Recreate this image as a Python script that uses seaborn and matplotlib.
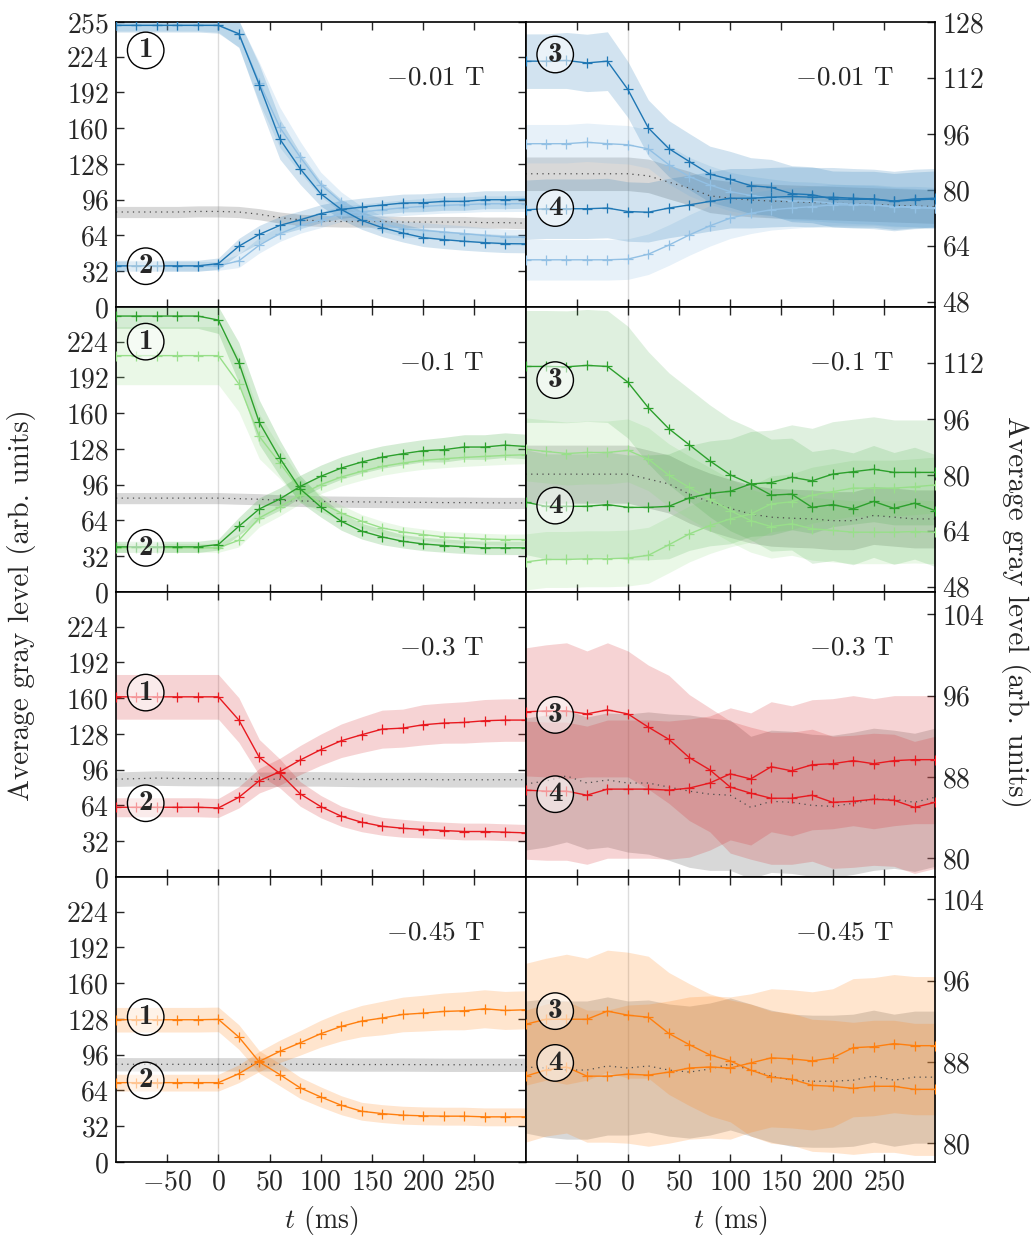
import matplotlib
matplotlib.use("Agg")
import matplotlib.pyplot as plt
import seaborn as sns
import pandas as pd
from matplotlib.ticker import FuncFormatter

# ---------------- data ----------------
t_ms = [-100, -80, -60, -40, -20, 0, 20, 40, 60, 80, 100, 120, 140, 160, 180, 200, 220, 240, 260, 280, 300]
field_labels = ["$-0.01$ T", "$-0.1$ T", "$-0.3$ T", "$-0.45$ T"]

# Row 1 (-0.01 T), left: regions 1 & 2
r1_left_1 = [252, 252, 252, 252, 252, 252, 244.5, 198.7, 150.3, 123.6, 101.3, 87.3, 77.5, 71, 66.2, 62.1, 60.3, 58.8, 57.6, 56.7, 56.5]
r1_left_1b = [252, 252, 252, 252, 252, 252, 244, 200.8, 160.7, 134, 109.6, 93.9, 82, 74.6, 70, 68.6, 67, 65.6, 64, 62.7, 62.5]
r1_left_2 = [36.8, 36.8, 36.8, 36.8, 36.8, 38.9, 54.4, 65, 73, 78, 83.5, 87.3, 89.4, 91.2, 93, 93.3, 94.5, 94.5, 96, 96, 96.3]
r1_left_2b = [36.8, 36.8, 36.8, 36.8, 36.8, 36.8, 41.3, 55.3, 65.6, 73, 78, 83.5, 85, 87, 88.8, 90, 91, 91.5, 92.4, 92.4, 92.5]
r1_left_gray = [85, 85, 85, 85, 85.5, 85.5, 85, 83, 80, 78, 77, 76.5, 76.5, 76.5, 76, 76, 76, 76, 75.5, 75.5, 75]
r1_left_1_sd = [6, 6, 6, 6, 6, 7, 12, 18, 18, 14, 11, 9, 8, 8, 8, 8, 8, 8, 8, 8, 8]
r1_left_1b_sd = [5, 5, 5, 5, 5, 6, 12, 18, 18, 14, 11, 9, 8, 7, 7, 7, 7, 7, 7, 7, 7]
r1_left_2_sd = [5, 5, 5, 5, 5, 5, 7, 8, 8, 8, 8, 8, 8, 8, 8, 8, 8, 8, 8, 8, 8]
r1_left_2b_sd = [4, 4, 4, 4, 4, 4, 6, 7, 7, 7, 7, 7, 7, 7, 7, 7, 7, 7, 7, 7, 7]
r1_left_gray_sd = [5] * 21

# Row 1, right: regions 3 & 4
r1_right_3 = [116.8, 116.8, 117, 116.3, 116.8, 108.7, 97.7, 91.8, 88.1, 84.5, 83, 81.2, 80.7, 78.9, 78.6, 77.4, 77.3, 77.3, 76.7, 77.1, 77.4]
r1_right_3b = [93.2, 93.2, 93.2, 93.6, 93.2, 92.9, 91.7, 87.2, 83.8, 81.4, 79.5, 78.4, 77.6, 76.9, 76.7, 76.2, 75.9, 75.7, 75.2, 74.9, 74.7]
r1_right_4 = [74.3, 74.6, 74.6, 74.6, 74.8, 73.8, 73.6, 74.8, 75.7, 76.7, 77.6, 77.6, 77.9, 78.1, 77.9, 77.9, 77.6, 77.4, 76.8, 77.4, 77.6]
r1_right_4b = [60, 60, 60, 60, 60, 60.2, 61.6, 64.2, 67.1, 69.7, 71.9, 73.3, 74.3, 74.8, 75.2, 75.7, 75.7, 75.7, 75.2, 75.2, 74.9]
r1_right_gray = [84.6, 84.6, 84.6, 84.6, 84.6, 84.6, 84, 82.2, 80.5, 78.3, 77.6, 77.1, 76.8, 76.6, 76.4, 76.2, 76, 75.8, 75.6, 75.4, 75.2]
r1_right_3_sd = [7.8, 7.8, 8, 8.2, 8.4, 8, 8, 8, 8, 8, 8, 8, 8, 8, 8, 8, 8, 8, 8, 8, 8]
r1_right_3b_sd = [5.5] * 21
r1_right_4_sd = [8.5] * 21
r1_right_4b_sd = [5.8] * 21
r1_right_gray_sd = [4.8] * 21

# Row 2 (-0.1 T), left
r2_left_1 = [246.9, 246.9, 246.9, 246.9, 246.9, 243.3, 205.3, 151.7, 119.8, 92.2, 76.1, 63.3, 54.4, 49.3, 45.4, 43, 41.6, 40.4, 39.5, 39.5, 39.5]
r2_left_1b = [211.5, 211.5, 211.5, 211.5, 211.5, 211.5, 186.2, 139.2, 115.4, 91, 79.7, 70.7, 63.3, 57.3, 53.8, 51.4, 49.3, 48.4, 47.5, 46.9, 46.9]
r2_left_2 = [40.4, 40.4, 40.4, 40.4, 40.4, 42.5, 58.8, 74.3, 83.2, 94.5, 103.5, 110.9, 116.3, 120.7, 123.7, 126.4, 127.3, 129.7, 129.7, 131.4, 130.2]
r2_left_2b = [39.5, 39.5, 39.5, 39.5, 39.5, 39.5, 46.3, 66.3, 76.1, 87.1, 96, 102.9, 108, 112.4, 115.4, 117.8, 119.2, 120.4, 121.3, 122.2, 122.8]
r2_left_gray = [84, 84, 84, 84, 84, 84, 83.5, 83, 82, 81.5, 81, 80.8, 80.6, 80.5, 80.3, 80.2, 80, 80, 79.8, 79.7, 79.7]
r2_left_1_sd = [11, 11, 11, 11, 11, 12, 18, 20, 16, 12, 9, 8, 7, 7, 6, 6, 6, 6, 6, 6, 6]
r2_left_1b_sd = [26, 26, 26, 26, 26, 26, 25, 20, 14, 10, 8, 7, 6, 6, 5, 5, 5, 5, 5, 5, 5]
r2_left_2_sd = [5, 5, 5, 5, 5, 5, 8, 10, 10, 10, 10, 10, 10, 10, 10, 10, 11, 11, 11, 11, 11]
r2_left_2b_sd = [4, 4, 4, 4, 4, 4, 6, 8, 8, 8, 8, 8, 8, 8, 8, 8, 8, 8, 8, 8, 8]
r2_left_gray_sd = [5] * 21

# Row 2, right
r2_right_3 = [111, 111, 110.9, 111.3, 111, 106.5, 99.2, 93.2, 88.6, 84, 80, 77.4, 74.2, 74.5, 70.7, 71.5, 70.3, 72.4, 70.4, 71.9, 69.8]
r2_right_3b = [87.3, 86.7, 86.1, 86.4, 86.4, 87, 84.5, 79.9, 76.4, 73.1, 69.8, 66.9, 65.2, 66, 64.6, 64.1, 63.6, 63.6, 63.6, 63.8, 63.6]
r2_right_4 = [72.2, 71, 71, 71, 71.5, 70.7, 70.7, 71, 73.4, 74.7, 75.3, 77.4, 77.8, 79.3, 78.3, 80.2, 80.9, 81.6, 80.7, 80.7, 80.7]
r2_right_4b = [55.1, 55.8, 55.8, 56, 56, 56.2, 57, 60, 63.1, 65.5, 67.4, 68.8, 71.7, 72.3, 74.2, 75.2, 76.2, 76.2, 76.2, 76.6, 77.1]
r2_right_gray = [80.2, 80.2, 80.2, 80.2, 80.2, 80.2, 78.8, 77.4, 74.5, 72.2, 70.4, 68.8, 67.9, 67.6, 67.4, 66.9, 66.9, 68.4, 67.9, 67.4, 67.4]
r2_right_3_sd = [16] * 21
r2_right_3b_sd = [9] * 21
r2_right_4_sd = [15] * 21
r2_right_4b_sd = [8] * 21
r2_right_gray_sd = [8.3] * 21

# Row 3 (-0.3 T), left
r3_left_1 = [161.2, 161.2, 161.2, 161.2, 161.2, 161.2, 140.4, 107, 92.7, 74.3, 63, 54.4, 49, 45.4, 43.6, 42.5, 41.6, 40.7, 40.7, 40.1, 39.5]
r3_left_2 = [62.4, 62.4, 62.4, 62.4, 62.4, 61.8, 71.3, 86.2, 94.2, 104.7, 113.9, 121.9, 127.3, 132.3, 133.2, 136.2, 137.7, 138.3, 139.8, 140.4, 140.4]
r3_left_gray = [87.5, 88, 88.5, 88.2, 88, 88, 87.8, 87.5, 87.5, 87.8, 87.8, 87.5, 87.2, 87.2, 87.2, 87.2, 87, 87, 87, 87, 87]
r3_left_1_sd = [20, 20, 20, 20, 20, 20, 20, 16, 13, 11, 10, 9, 8.5, 8, 8, 7.5, 7.5, 7.5, 7.5, 7.5, 7.5]
r3_left_2_sd = [8.5, 8.5, 8.5, 8.5, 8.5, 8.5, 9.5, 11, 12, 13, 14, 15, 16, 17, 17, 18, 18, 18.5, 19, 19, 19]
r3_left_gray_sd = [6.5] * 21

# Row 3, right
r3_right_3 = [94.4, 94.5, 94.5, 94.2, 94.6, 94.2, 92.9, 91.7, 89.9, 88.7, 87, 86.4, 85.9, 85.9, 86.2, 85.5, 85.6, 85.8, 85.7, 85, 85.5]
r3_right_4 = [86.7, 86.6, 86.6, 86.2, 86.8, 86.8, 86.8, 86.7, 86.9, 87.4, 88.3, 87.8, 89, 88.6, 89.2, 89.3, 89.6, 89.3, 89.6, 89.7, 89.7]
r3_right_gray = [87.3, 87.6, 88.1, 87.4, 87.7, 87.4, 87.4, 87, 86.6, 86.3, 86.2, 85, 85.6, 85.5, 85.2, 85.1, 85.4, 85.8, 85.8, 85.5, 86]
r3_right_3_sd = [6.3, 6.5, 6.7, 6.2, 6.6, 6.2, 6.1, 6.3, 6.2, 6.1, 6.5, 6.5, 6.5, 6.5, 6.5, 6.5, 6.5, 6.5, 6.5, 6.5, 6.5]
r3_right_4_sd = [6.8, 6.8, 6.8, 6.8, 6.8, 6.8, 6.8, 6.8, 6.8, 6.6, 6.5, 6.5, 6.4, 6.4, 6.4, 6.4, 6.4, 6.4, 6.4, 6.3, 6.3]
r3_right_gray_sd = [6.5, 6.5, 6.5, 6.5, 6.6, 6.8, 7, 7.2, 7.5, 7.5, 7.4, 7, 7, 7, 7, 7, 7, 7, 6.8, 6.8, 6.8]

# Row 4 (-0.45 T), left
r4_left_1 = [127.3, 127.3, 127.3, 127.3, 127.3, 127.6, 111.8, 89.5, 78.2, 66.3, 58.2, 50.8, 45.4, 43.3, 41.9, 41.3, 41, 41, 40.4, 40.4, 40.4]
r4_left_2 = [71, 71, 71, 71, 71, 71, 79, 90, 99, 106.7, 114.8, 121.3, 126.1, 128.8, 132, 133.2, 134.7, 135.3, 137.1, 135.6, 136.2]
r4_left_gray = [87.5, 87.4, 87.4, 87.4, 87.4, 87.4, 87.4, 87.4, 87.4, 87.5, 87.4, 87.3, 87.2, 87.2, 87.2, 87.1, 87, 87, 87, 87, 87]
r4_left_1_sd = [11, 11, 11, 11, 11, 11, 11, 10, 10, 9.5, 9, 8.5, 8, 8, 8, 8, 8, 8, 8, 8, 8]
r4_left_2_sd = [7.5, 7.5, 7.5, 7.5, 7.5, 7.5, 8, 9, 10, 11, 12, 13, 14, 15, 15.5, 16, 16.5, 17, 17, 17, 17]
r4_left_gray_sd = [6] * 21

# Row 4, right
r4_right_3 = [91.7, 92.2, 92.2, 92.2, 93, 92.6, 92.4, 90.8, 89.7, 88.7, 88.1, 87.2, 86.5, 86.3, 85.7, 85.6, 85.4, 85.6, 85.6, 85.3, 85.3]
r4_right_4 = [86.6, 87.2, 87.5, 86.6, 86.6, 86.8, 86.7, 87, 87.4, 87.5, 87.4, 87.9, 88.4, 88.3, 88.1, 88.4, 89.4, 89.5, 89.8, 89.6, 89.6]
r4_right_gray = [87.5, 87.4, 87.2, 87.2, 87.6, 87.4, 87.6, 87.2, 87, 87.3, 87.8, 87.2, 86.6, 86.2, 86.1, 86.1, 86.2, 86.6, 86.2, 86.5, 86.5]
r4_right_3_sd = [6, 6, 6.4, 6, 6, 6.2, 6, 6, 6, 6, 6, 6.5, 6.5, 6.5, 6.5, 6.5, 6.5, 6.5, 6.5, 6.5, 6.5]
r4_right_4_sd = [6.5, 6.5, 6.5, 6.5, 6.5, 6.8, 7, 7, 7, 7, 7, 6.8, 6.8, 6.8, 6.8, 6.8, 6.8, 6.8, 6.8, 6.8, 6.8]
r4_right_gray_sd = [6.5, 6.8, 6.8, 6.8, 6.8, 6.6, 6.5, 6.5, 6.5, 6.5, 6.5, 6.5, 6.5, 6.5, 6.5, 6.5, 6.5, 6.5, 6.5, 6.5, 6.5]

left_yticks = [0, 32, 64, 96, 128, 160, 192, 224]
right_yticks_low = [48, 64, 80, 96, 112, 128]
right_yticks_high = [80, 88, 96, 104]
xticks = [-50, 0, 50, 100, 150, 200, 250]

# ---------------- style ----------------
sns.set_style("ticks")
plt.rcParams["font.family"] = ["cmr10", "DejaVu Serif"]
plt.rcParams["mathtext.fontset"] = "cm"
plt.rcParams["axes.formatter.use_mathtext"] = True
plt.rcParams["axes.unicode_minus"] = True

BLUE, BLUE_L = "#1f77b4", "#92c0e4"
GREEN, GREEN_L = "#2ca02c", "#98df8a"
RED, RED_BAND = "#e8191f", "#d62728"
ORANGE = "#ff7f0e"

fig = plt.figure(figsize=(10.34, 12.39), dpi=100)
gs = fig.add_gridspec(4, 2, left=116 / 1034, right=935 / 1034,
                      top=1 - 22 / 1239, bottom=1 - 1162 / 1239,
                      hspace=0, wspace=0)

def S(vals, sd, color, band=None, alpha=0.2):
    return dict(vals=vals, sd=sd, color=color, band=band or color, alpha=alpha)

panels = [
    # row 1
    dict(series=[S(r1_left_1b, r1_left_1b_sd, BLUE_L, alpha=0.25), S(r1_left_2b, r1_left_2b_sd, BLUE_L, alpha=0.25),
                 S(r1_left_1, r1_left_1_sd, BLUE), S(r1_left_2, r1_left_2_sd, BLUE)],
         gray=(r1_left_gray, r1_left_gray_sd), circles=[("1", 229.6), ("2", 36.5)]),
    dict(series=[S(r1_right_3b, r1_right_3b_sd, BLUE_L, alpha=0.22), S(r1_right_4b, r1_right_4b_sd, BLUE_L, alpha=0.22),
                 S(r1_right_3, r1_right_3_sd, BLUE), S(r1_right_4, r1_right_4_sd, BLUE)],
         gray=(r1_right_gray, r1_right_gray_sd), circles=[("3", 118.7), ("4", 74.8)]),
    # row 2
    dict(series=[S(r2_left_1b, r2_left_1b_sd, GREEN_L, alpha=0.2), S(r2_left_2b, r2_left_2b_sd, GREEN_L, alpha=0.2),
                 S(r2_left_1, r2_left_1_sd, GREEN), S(r2_left_2, r2_left_2_sd, GREEN)],
         gray=(r2_left_gray, r2_left_gray_sd), circles=[("1", 224), ("2", 39.5)]),
    dict(series=[S(r2_right_3b, r2_right_3b_sd, GREEN_L, alpha=0.2), S(r2_right_4b, r2_right_4b_sd, GREEN_L, alpha=0.2),
                 S(r2_right_3, r2_right_3_sd, GREEN, alpha=0.15), S(r2_right_4, r2_right_4_sd, GREEN, alpha=0.15)],
         gray=(r2_right_gray, r2_right_gray_sd), circles=[("3", 107.1), ("4", 71.2)]),
    # row 3
    dict(series=[S(r3_left_1, r3_left_1_sd, RED, RED_BAND), S(r3_left_2, r3_left_2_sd, RED, RED_BAND)],
         gray=(r3_left_gray, r3_left_gray_sd), circles=[("1", 165), ("2", 66)]),
    dict(series=[S(r3_right_3, r3_right_3_sd, RED, RED_BAND), S(r3_right_4, r3_right_4_sd, RED, RED_BAND)],
         gray=(r3_right_gray, r3_right_gray_sd), circles=[("3", 94.1), ("4", 86.3)]),
    # row 4
    dict(series=[S(r4_left_1, r4_left_1_sd, ORANGE), S(r4_left_2, r4_left_2_sd, ORANGE)],
         gray=(r4_left_gray, r4_left_gray_sd), circles=[("1", 129.7), ("2", 73)]),
    dict(series=[S(r4_right_3, r4_right_3_sd, ORANGE), S(r4_right_4, r4_right_4_sd, ORANGE)],
         gray=(r4_right_gray, r4_right_gray_sd), circles=[("3", 93), ("4", 87.9)]),
]

fmt = FuncFormatter(lambda v, p: "$%d$" % int(round(v)))

for i, p in enumerate(panels):
    row, col = divmod(i, 2)
    ax = fig.add_subplot(gs[row, col])
    ax.axvline(0, color="#dcdcdc", lw=1.0, zorder=0)

    gv, gsd = p["gray"]
    gdf = pd.DataFrame({"t": t_ms, "v": gv, "sd": gsd})
    ax.fill_between(gdf["t"], gdf["v"] - gdf["sd"], gdf["v"] + gdf["sd"],
                    color="0.5", alpha=0.3, lw=0, zorder=1)
    sns.lineplot(data=gdf, x="t", y="v", ax=ax, color="0.3", lw=0.9,
                 linestyle=(0, (1, 3.5)), errorbar=None, zorder=2)

    for s in p["series"]:
        df = pd.DataFrame({"t": t_ms, "v": s["vals"], "sd": s["sd"]})
        ax.fill_between(df["t"], df["v"] - df["sd"], df["v"] + df["sd"],
                        color=s["band"], alpha=s["alpha"], lw=0, zorder=1)
    for s in p["series"]:
        df = pd.DataFrame({"t": t_ms, "v": s["vals"]})
        sns.lineplot(data=df, x="t", y="v", ax=ax, color=s["color"], lw=1.0,
                     marker="+", markersize=7, markeredgewidth=0.9,
                     markeredgecolor=s["color"], errorbar=None, zorder=3)

    for lab, yv in p["circles"]:
        ax.text(-71, yv, lab, ha="center", va="center", fontsize=21,
                family="cmb10", zorder=5,
                bbox=dict(boxstyle="circle,pad=0.18", fc=(1, 1, 1, 0.55), ec="black", lw=1.0))

    ax.text(0.9, 0.805, field_labels[row], transform=ax.transAxes, ha="right",
            va="center", fontsize=19.5)

    ax.set_xlim(-100, 300)
    ax.set_xticks(xticks)
    ax.xaxis.set_major_formatter(fmt)
    ax.set_ylabel("")
    if col == 0:
        ax.set_ylim(0, 255)
        ax.set_yticks(left_yticks + [255] if row == 0 else left_yticks)
        ax.tick_params(axis="y", left=True, right=True, labelleft=True, labelright=False)
    else:
        if row < 2:
            ax.set_ylim(46.5, 128)
            ax.set_yticks(right_yticks_low if row == 0 else right_yticks_low[:-1])
        else:
            ax.set_ylim(78.15, 106.2)
            ax.set_yticks(right_yticks_high)
        ax.tick_params(axis="y", left=False, right=True, labelleft=False, labelright=True)
    ax.yaxis.set_major_formatter(fmt)
    ax.tick_params(axis="both", direction="in", length=6, width=1.0, labelsize=20, pad=5)
    ax.tick_params(axis="x", top=True, bottom=True, labelbottom=(row == 3))
    for sp in ax.spines.values():
        sp.set_visible(True)
        sp.set_color("black")
        sp.set_linewidth(1.2)
    if row == 3:
        ax.set_xlabel("$t$ (ms)", fontsize=20, labelpad=6)
    else:
        ax.set_xlabel("")

fig.text(22 / 1034, 0.512, "Average gray level (arb. units)", rotation=90,
         ha="center", va="center", fontsize=21)
fig.text(1016 / 1034, 0.506, "Average gray level (arb. units)", rotation=270,
         ha="center", va="center", fontsize=21)

fig.savefig("out.png", dpi=100)
